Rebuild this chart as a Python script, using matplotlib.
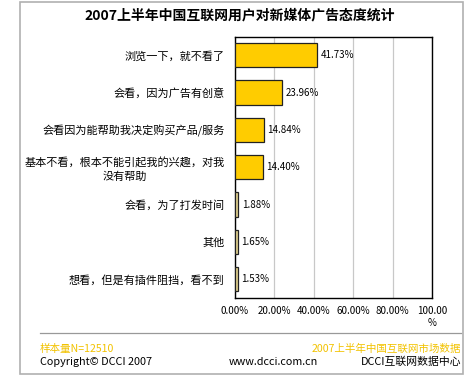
import matplotlib
matplotlib.use("Agg")
import matplotlib.pyplot as plt
from matplotlib.lines import Line2D
from matplotlib.patches import Rectangle

plt.rcParams['font.family'] = ['Noto Sans CJK SC', 'DejaVu Sans']

# 数据
title = "2007上半年中国互联网用户对新媒体广告态度统计"
categories = [
    "浏览一下，就不看了",
    "会看，因为广告有创意",
    "会看因为能帮助我决定购买产品/服务",
    "基本不看，根本不能引起我的兴趣，对我\n没有帮助",
    "会看，为了打发时间",
    "其他",
    "想看，但是有插件阻挡，看不到",
]
values = [41.73, 23.96, 14.84, 14.40, 1.88, 1.65, 1.53]
x_ticks = [0, 20, 40, 60, 80, 100]
x_tick_labels = ["0.00%", "20.00%", "40.00%", "60.00%", "80.00%", "100.00\n%"]
footer_left = ["样本量N=12510", "Copyright© DCCI 2007"]
footer_mid = "www.dcci.com.cn"
footer_right = ["2007上半年中国互联网市场数据", "DCCI互联网数据中心"]

W, H = 471, 386
fig = plt.figure(figsize=(W / 100, H / 100), dpi=100)

# 外框
fig.patches.append(Rectangle((20 / W, 1 - 374 / H), 443 / W, 372 / H,
                             transform=fig.transFigure, fill=False,
                             edgecolor="#b0b0b0", linewidth=1.2))

ax = fig.add_axes([234.5 / W, 1 - 298 / H, 197.5 / W, 261.5 / H])

pos = list(range(len(categories)))
colors = ["#FFCC00" if v > 5 else "#E2D28E" for v in values]
ax.barh(pos, values, height=0.65, color=colors, edgecolor="#222222", linewidth=0.9, zorder=3)
for p, v in zip(pos, values):
    ax.text(v + 1.8, p, f"{v:.2f}%", va="center", ha="left", fontsize=7, zorder=4)

ax.set_xlim(0, 100)
ax.set_ylim(len(categories) - 0.5, -0.5)
ax.set_yticks(pos)
ax.set_yticklabels(categories, fontsize=8, multialignment="center", linespacing=1.35)
ax.set_xticks(x_ticks)
ax.set_xticklabels(x_tick_labels, fontsize=7, va="top")
ax.tick_params(axis="both", length=0)
ax.tick_params(axis="y", pad=7)
ax.tick_params(axis="x", pad=6)
ax.xaxis.grid(True, color="#c8c8c8", linewidth=0.9, zorder=0)
for s in ax.spines.values():
    s.set_color("black")
    s.set_linewidth(1.0)

fig.text(240 / W, 1 - 15 / H, title, ha="center", va="center", fontsize=10, fontweight="bold")

# 页脚
fig.lines.append(Line2D([40 / W, 461 / W], [1 - 333 / H, 1 - 333 / H],
                        transform=fig.transFigure, color="#999999", linewidth=0.9))
fig.text(40 / W, 1 - 349 / H, footer_left[0], ha="left", va="center", fontsize=7.6, color="#F2C200")
fig.text(40 / W, 1 - 362 / H, footer_left[1], ha="left", va="center", fontsize=7.8)
fig.text(273 / W, 1 - 362 / H, footer_mid, ha="center", va="center", fontsize=7.8)
fig.text(461 / W, 1 - 349 / H, footer_right[0], ha="right", va="center", fontsize=7.6, color="#F2C200")
fig.text(461 / W, 1 - 362 / H, footer_right[1], ha="right", va="center", fontsize=7.8)

fig.savefig("out.png", dpi=100)
